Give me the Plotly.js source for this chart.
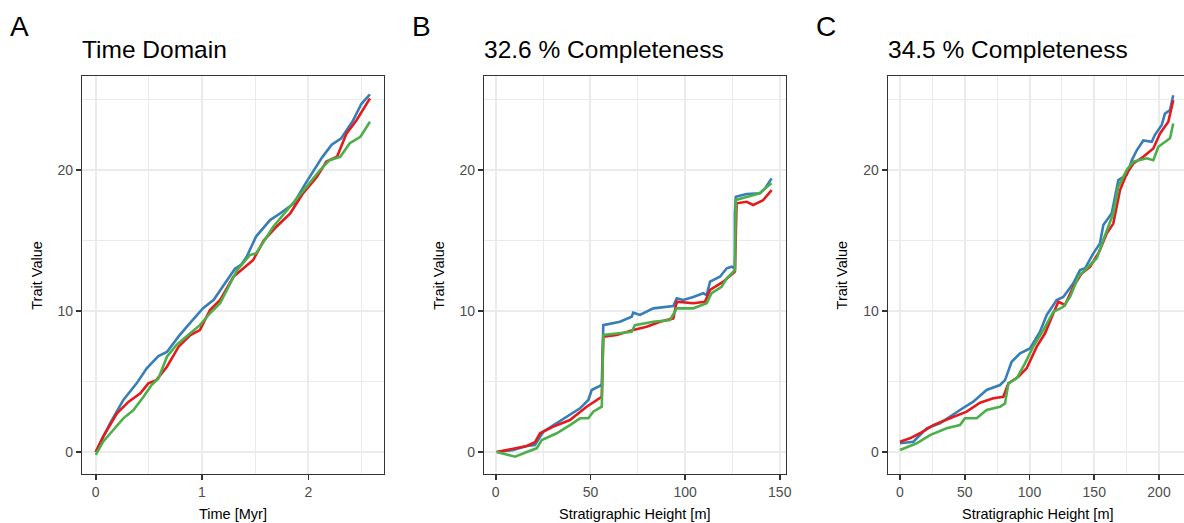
<!DOCTYPE html>
<html>
<head>
<meta charset="utf-8">
<script src="https://cdn.plot.ly/plotly-3.0.1.min.js"></script>
<style>html,body{margin:0;padding:0;background:#fff;}#chart{width:1184px;height:523px;}</style>
</head>
<body>
<div id="chart"></div>
<script>
// ---------- Panel A: Time Domain (x = time in Myr) ----------
const aBlueX = [0,0.135,0.26,0.385,0.48,0.59,0.67,0.78,0.87,1.01,1.11,1.2,1.31,1.37,1.42,1.51,1.64,1.73,1.86,1.97,2.05,2.13,2.22,2.31,2.42,2.50,2.58];
const aBlueY = [0,2.03,3.69,4.87,5.94,6.8,7.1,8.2,9.0,10.2,10.8,11.8,13.0,13.3,13.85,15.3,16.45,16.9,17.6,19.0,20.0,20.9,21.8,22.25,23.5,24.7,25.37];
const aRedX = [0,0.07,0.2,0.31,0.42,0.495,0.57,0.67,0.78,0.89,0.98,1.075,1.17,1.295,1.39,1.48,1.58,1.70,1.83,1.95,2.08,2.17,2.27,2.36,2.455,2.58];
const aRedY = [0,1.09,2.74,3.57,4.16,4.87,5.1,6.05,7.47,8.3,8.65,10.07,10.78,12.43,13.03,13.6,15.0,15.98,16.93,18.35,19.5,20.6,20.94,22.6,23.55,25.08];
const aGreenX = [0,0.07,0.165,0.26,0.355,0.45,0.525,0.59,0.67,0.76,0.87,0.98,1.075,1.17,1.25,1.33,1.45,1.51,1.67,1.83,1.985,2.11,2.2,2.3,2.39,2.49,2.58];
const aGreenY = [-0.2,0.73,1.56,2.39,2.98,3.92,4.75,5.22,6.76,7.59,8.3,9.0,9.84,10.55,11.72,12.9,13.97,14.1,15.98,17.4,18.82,20.0,20.7,20.94,21.9,22.36,23.42];

// ---------- Panel B: 32.6 % Completeness (x = stratigraphic height in m) ----------
const bBlueX = [0.5,9.3,16.4,20.7,25.1,32.2,39.2,44.5,48.9,50.7,56,56.8,65.6,71.8,72.6,76.2,83.2,93.8,95.6,99.1,104.3,109.6,111.4,113.2,118.4,122,124.6,126.3,126.3,126.8,132.5,139.5,142.2,145.7];
const bBlueY = [0,0.14,0.43,0.5,1.44,2.03,2.62,3.1,3.69,4.4,4.75,9.0,9.24,9.6,9.88,9.72,10.19,10.35,10.9,10.78,11.0,11.26,11.13,12.08,12.43,13.03,13.14,13.03,16.93,18.1,18.3,18.35,18.7,19.41];
const bRedX = [0.5,7.5,16.4,20.7,23.4,30.4,39.2,48,56,56.8,63.9,72.6,79.7,86.8,93.8,95.6,104.3,110.5,113.2,120.2,126.3,127.2,132.5,136,141.3,145.7];
const bRedY = [0,0.21,0.43,0.69,1.33,1.8,2.27,3.21,3.92,8.18,8.3,8.65,8.89,9.24,9.48,10.66,10.55,10.66,11.49,12.08,12.79,17.64,17.75,17.52,17.87,18.58];
const bGreenX = [0.5,10.2,16.4,21.6,24.3,32.2,39.2,44.5,48.9,51.5,56,56.8,63.9,71.8,73.5,83.2,92,95.6,104.3,111.4,114,119.3,122,126.3,126.8,132.5,139.5,143.3,145.7];
const bGreenY = [0,-0.33,0.0,0.26,0.85,1.33,1.91,2.39,2.39,2.86,3.21,8.3,8.41,8.53,9.0,9.24,9.36,10.19,10.19,10.55,11.26,11.72,12.32,12.9,17.87,18.1,18.35,18.82,19.06];

// ---------- Panel C: 34.5 % Completeness (x = stratigraphic height in m) ----------
const cBlueX = [0,10.3,20.6,30.9,46.3,56.6,66.9,77.2,81.1,86.2,92.7,100.4,108.1,113.3,121,126.1,133.8,139,142.9,149.3,154.4,157,163.5,168.6,175.1,179,182.8,187.9,194.4,196.9,202.1,204.6,208.5,211];
const cBlueY = [0.62,0.73,1.68,2.03,2.98,3.57,4.4,4.75,5.1,6.4,7.0,7.35,8.53,9.72,10.78,11.0,11.96,12.9,13.03,14.09,14.8,16.1,16.93,19.29,19.65,20.7,21.4,22.1,22.0,22.5,23.2,24.0,24.26,25.3];
const cRedX = [0,7.7,15.4,25.7,38.6,51.5,61.8,72.1,79.8,83.7,91.4,97.8,105.6,112,118.4,122.3,127.4,133.8,140.3,146.7,153.1,154.4,159.6,164.7,169.9,175.1,180.2,187.9,195.6,200.8,207.2,211];
const cRedY = [0.73,0.97,1.33,1.91,2.39,2.86,3.5,3.81,3.92,4.87,5.34,5.94,7.47,8.42,9.84,10.66,10.43,11.72,12.67,13.14,14.09,14.33,15.5,16.2,18.58,19.76,20.47,20.94,21.53,22.6,23.42,24.96];
const cGreenX = [0,12.9,23.2,36,46.3,50.2,59.2,66.9,77.2,81.1,83.7,90.1,96.5,102.9,110.7,118.4,126.1,131.3,137.7,144.2,151.9,157,164.7,168.6,175.1,180.2,190.5,195.6,199.5,208.5,211];
const cGreenY = [0.14,0.62,1.2,1.68,1.91,2.39,2.39,2.98,3.21,3.45,4.87,5.22,6.29,7.47,8.65,9.95,10.3,11.0,12.43,13.03,13.74,15.04,16.93,18.82,20.0,20.59,20.83,20.7,21.65,22.25,23.3];

// ---------- Text ----------
const panelLetters = ['A','B','C'];
const panelTitles = ['Time Domain','32.6 % Completeness','34.5 % Completeness'];
const xTitles = ['Time [Myr]','Stratigraphic Height [m]','Stratigraphic Height [m]'];
const yTitle = 'Trait Value';
const colors = {blue:'#377EB8', red:'#E41A1C', green:'#4DAF4A'};

const W = 1184, H = 523;
const px = v => v / W;
const py = v => (H - v) / H;

// plot boxes in pixels
const boxes = [
  {l:82,   r:384,  xr:[-0.129, 2.712], dt:1,  mdt:0.5},
  {l:484,  r:786,  xr:[-6.2, 153.3],   dt:50, mdt:25},
  {l:887.7,r:1184, xr:[-9.5, 219.3],   dt:50, mdt:25}
];
const plotTop = 76, plotBot = 474;
const yRange = [-1.56, 26.67];

function mk(x, y, col, ax) {
  return {x:x, y:y, type:'scatter', mode:'lines', line:{color:col, width:2.6},
          xaxis:'x'+ax, yaxis:'y'+ax, showlegend:false, hoverinfo:'skip'};
}
const data = [
  mk(aBlueX,aBlueY,colors.blue,''), mk(aRedX,aRedY,colors.red,''), mk(aGreenX,aGreenY,colors.green,''),
  mk(bBlueX,bBlueY,colors.blue,'2'), mk(bRedX,bRedY,colors.red,'2'), mk(bGreenX,bGreenY,colors.green,'2'),
  mk(cBlueX,cBlueY,colors.blue,'3'), mk(cRedX,cRedY,colors.red,'3'), mk(cGreenX,cGreenY,colors.green,'3')
];

const font = 'Liberation Sans, Arial, sans-serif';
const layout = {
  width:W, height:H, margin:{l:0,r:0,t:0,b:0},
  paper_bgcolor:'#fff', plot_bgcolor:'#fff',
  font:{family:font, color:'#000'},
  showlegend:false, annotations:[]
};
boxes.forEach((b,i) => {
  const s = i===0 ? '' : String(i+1);
  layout['xaxis'+s] = {
    domain:[px(b.l), Math.min(1, px(b.r))], range:b.xr, anchor:'y'+s,
    tick0:0, dtick:b.dt, showgrid:true, gridcolor:'#EBEBEB', gridwidth:2,
    minor:{tick0:0, dtick:b.mdt, showgrid:true, gridcolor:'#EBEBEB', gridwidth:1.1},
    zeroline:false, showline:true, mirror:true, linecolor:'#333333', linewidth:1.1,
    ticks:'outside', ticklen:5, tickwidth:1.6, tickcolor:'#333333',
    tickfont:{family:font, size:14, color:'#4D4D4D'}, fixedrange:true
  };
  layout['yaxis'+s] = {
    domain:[py(plotBot), py(plotTop)], range:yRange, anchor:'x'+s,
    tick0:0, dtick:10, showgrid:true, gridcolor:'#EBEBEB', gridwidth:2,
    minor:{tick0:0, dtick:5, showgrid:true, gridcolor:'#EBEBEB', gridwidth:1.1},
    zeroline:false, showline:true, mirror:true, linecolor:'#333333', linewidth:1.1,
    ticks:'outside', ticklen:5, tickwidth:1.6, tickcolor:'#333333',
    tickfont:{family:font, size:14, color:'#4D4D4D'}, fixedrange:true
  };
  const centerX = i===2 ? 1037.5 : (b.l + b.r)/2;
  layout.annotations.push(
    {text:panelLetters[i], xref:'paper', yref:'paper', x:px(b.l-74), y:py(26), xanchor:'left', yanchor:'middle',
     showarrow:false, font:{family:font, size:28, color:'#000'}},
    {text:panelTitles[i], xref:'paper', yref:'paper', x:px(b.l-2), y:py(49.5), xanchor:'left', yanchor:'middle',
     showarrow:false, font:{family:font, size:24.5, color:'#000'}},
    {text:xTitles[i], xref:'paper', yref:'paper', x:px(centerX), y:py(513.5), xanchor:'center', yanchor:'middle',
     showarrow:false, font:{family:font, size:14.5, color:'#000'}},
    {text:yTitle, xref:'paper', yref:'paper', x:px(b.l-45.3), y:py(275), xanchor:'center', yanchor:'middle',
     textangle:-90, showarrow:false, font:{family:font, size:14.5, color:'#000'}}
  );
});

Plotly.newPlot('chart', data, layout, {displayModeBar:false, staticPlot:true});
</script>
</body>
</html>
